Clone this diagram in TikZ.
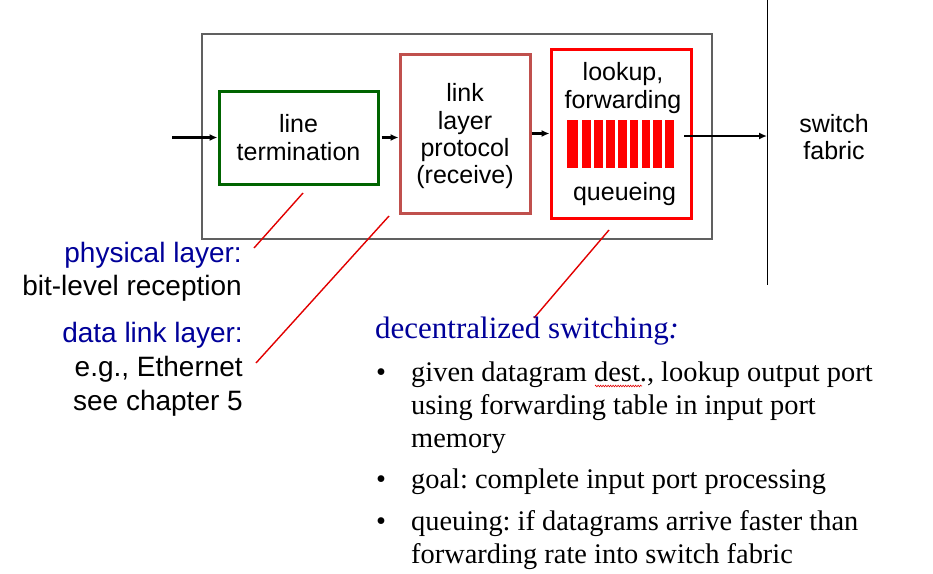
\documentclass[tikz,border=0pt]{standalone}
\usepackage{fontspec}
\setmainfont{Liberation Serif}
\newfontfamily\arialf{Liberation Sans}
\usetikzlibrary{arrows.meta,decorations.pathmorphing}
\frenchspacing
\definecolor{frameg}{RGB}{96,96,96}
\definecolor{termg}{RGB}{0,100,0}
\definecolor{linkr}{RGB}{192,80,77}
\definecolor{qred}{RGB}{255,0,0}
\definecolor{labblue}{RGB}{0,0,153}
\definecolor{callred}{RGB}{225,0,0}
\tikzset{
  boxtxt/.style={font=\arialf\fontsize{25}{27.2}\selectfont, align=center, inner sep=0pt},
  labtxt/.style={font=\arialf\fontsize{28}{34}\selectfont, inner sep=0pt, anchor=base east},
  bodytxt/.style={font=\fontsize{28.4}{33}\selectfont, inner sep=0pt, anchor=base west},
  flow/.style={draw=black, line width=2.4pt, -{Latex[length=8pt,width=7pt]}},
  callout/.style={draw=callred, line width=1.4pt},
  stage/.style={inner sep=0pt, line width=3pt}
}
\begin{document}
\frenchspacing
\begin{tikzpicture}[x=1pt,y=-1pt]
\useasboundingbox (0,0) rectangle (933,573);
% outer frame
\node[draw=frameg, line width=2pt, inner sep=0pt, minimum width=510pt, minimum height=205pt] (port) at (457,136.5) {};
% stages
\node[stage, draw=termg, minimum width=159pt, minimum height=93pt, boxtxt] (lt) at (298.5,137.5) {line\\termination};
\node[stage, draw=linkr, minimum width=130pt, minimum height=159pt] (ll) at (465,133.5) {};
\node[boxtxt] (lltxt) at (465,136.2) {link\\layer\\protocol\\(receive)};
\node[stage, draw=qred, minimum width=140pt, minimum height=169pt] (rb) at (621,133.5) {};
\node[boxtxt, font=\arialf\fontsize{25}{28.3}\selectfont] (lftxt) at (623,87.8) {lookup,\\forwarding};
\node[boxtxt, anchor=base] (qtxt) at (624.5,200) {queueing};
% queue bars
\fill[qred] (566.7,120) rectangle (578.3,167.7);
\foreach \xb in {582.3,594.15,606,617.85,629.7,641.55,653.4,665.25}
  \fill[qred] (\xb,120) rectangle ++(8.7,47.7);
% switch fabric line
\coordinate (ftop) at (767,0);
\coordinate (fbot) at (767,285);
\draw[black, line width=1pt] (ftop) -- (fbot);
\node[boxtxt, font=\arialf\fontsize{25}{26.7}\selectfont] (sf) at (834,137) {switch\\fabric};
% flow arrows
\coordinate (inp) at (172,137.5);
\coordinate (outs) at (684,136);
\coordinate (outf) at (767,136);
\draw[flow] (inp) -- (lt.west);
\draw[flow] ([xshift=2pt]lt.east) -- (lt.east -| ll.west);
\draw[flow] (ll.east) -- (ll.east -| rb.west);
\draw[flow] (outs) -- (outf);
% left labels
\node[labtxt, text=labblue] (phys) at (242,262) {physical layer:};
\node[labtxt] (phys2) at (242,295) {bit-level reception};
\node[labtxt, text=labblue] (dll) at (243,342) {data link layer:};
\node[labtxt] (dll2) at (243,376) {e.g., Ethernet};
\node[labtxt] (dll3) at (243,410.5) {see chapter 5};
% callouts
\coordinate (c1a) at (303,193);
\coordinate (c1b) at (254,248);
\coordinate (c2a) at (389,216);
\coordinate (c2b) at (256,363);
\coordinate (c3a) at (609,230);
\coordinate (c3b) at (534,318);
\draw[callout] (c1a) -- (c1b);
\draw[callout] (c2a) -- (c2b);
\draw[callout] (c3a) -- (c3b);
% decentralized switching text
\node[bodytxt, font=\fontsize{31}{36}\selectfont, text=labblue] (title) at (375,338.3) {decentralized switching\textit{:}};
\node[bodytxt, anchor=base] (b1) at (381,381.5) {\textbullet};
\node[bodytxt] (t1a) at (411,381.5) {given datagram dest., lookup output port};
\node[bodytxt] (t1b) at (411,414.5) {using forwarding table in input port};
\node[bodytxt] (t1c) at (411,447) {memory};
\node[bodytxt, anchor=base] (b2) at (381,488) {\textbullet};
\node[bodytxt] (t2a) at (411,488) {goal: complete input port processing};
\node[bodytxt, anchor=base] (b3) at (381,530) {\textbullet};
\node[bodytxt] (t3a) at (411,530) {queuing: if datagrams arrive faster than};
\node[bodytxt] (t3b) at (411,563) {forwarding rate into switch fabric};
% spell-check squiggle
\draw[callred, line width=0.6pt, decorate, decoration={zigzag, segment length=2.5pt, amplitude=0.8pt}] (595,386) -- (642,386);
\end{tikzpicture}
\end{document}
